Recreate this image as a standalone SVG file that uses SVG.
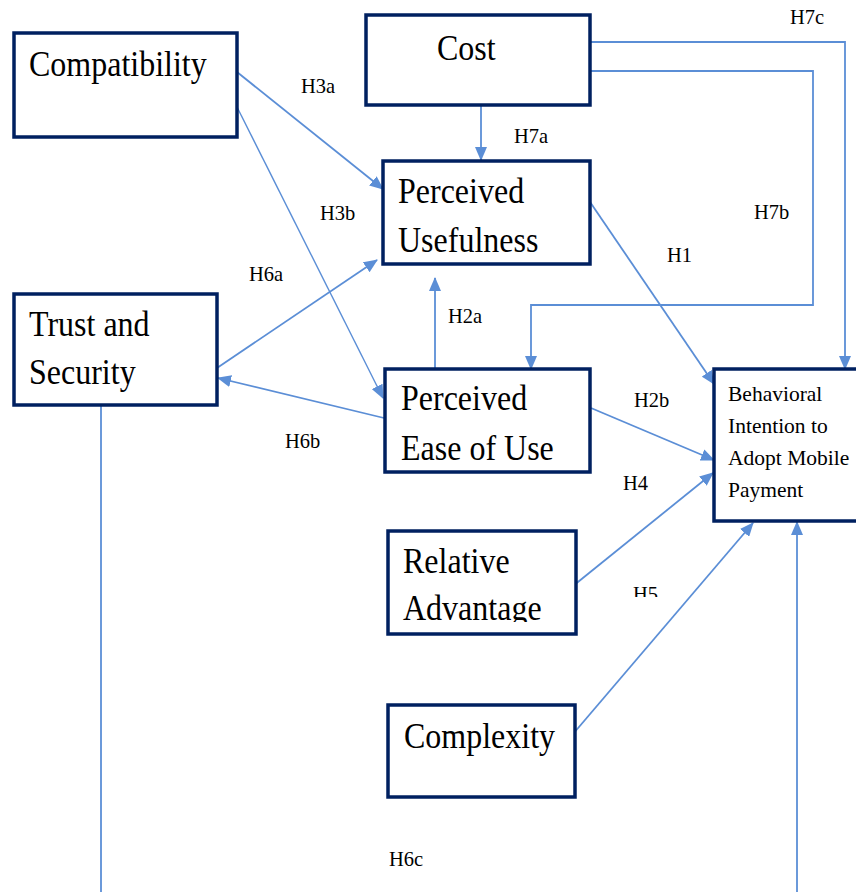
<svg xmlns="http://www.w3.org/2000/svg" width="856" height="892" viewBox="0 0 856 892">
<defs>
<marker id="ah" markerUnits="userSpaceOnUse" markerWidth="14" markerHeight="12" refX="13" refY="6" orient="auto">
<path d="M0,0 L14,6 L0,12 Z" fill="#5B8ED6"/>
</marker>
<clipPath id="clipH5"><rect x="600" y="560" width="100" height="37"/></clipPath>
<clipPath id="clipAdv"><rect x="390" y="530" width="185" height="92"/></clipPath>
</defs>
<rect width="856" height="892" fill="#fff"/>

<g id="connectors" fill="none" stroke="#5B8ED6" stroke-width="1.8">
<line x1="237" y1="72" x2="383" y2="189" marker-end="url(#ah)"/>
<line stroke-width="1.4" x1="237" y1="107" x2="383" y2="398" marker-end="url(#ah)"/>
<line x1="481" y1="105" x2="481" y2="160" marker-end="url(#ah)"/>
<polyline points="590,42 845,42 845,369" marker-end="url(#ah)"/>
<polyline points="590,71 813,71 813,305 531,305 531,369" marker-end="url(#ah)"/>
<line x1="588" y1="199" x2="714" y2="384" marker-end="url(#ah)"/>
<line x1="435" y1="369" x2="435" y2="278" marker-end="url(#ah)"/>
<line x1="217" y1="368" x2="377" y2="260" marker-end="url(#ah)"/>
<line x1="384" y1="418" x2="218" y2="378" marker-end="url(#ah)"/>
<line x1="591" y1="408" x2="714" y2="460" marker-end="url(#ah)"/>
<line x1="573" y1="586" x2="713" y2="473" marker-end="url(#ah)"/>
<line x1="573" y1="734" x2="753" y2="523" marker-end="url(#ah)"/>
<line x1="101" y1="405" x2="101" y2="895"/>
<line x1="797" y1="895" x2="797" y2="522" marker-end="url(#ah)"/>
</g>

<g id="labels" font-family="Liberation Serif" font-size="20.5" fill="#000">
<text transform="translate(790,24) scale(1,1.07)">H7c</text>
<text transform="translate(301,93) scale(1,1.07)">H3a</text>
<text transform="translate(514,143) scale(1,1.07)">H7a</text>
<text transform="translate(320,220) scale(1,1.07)">H3b</text>
<text transform="translate(754,219) scale(1,1.07)">H7b</text>
<text transform="translate(249,281) scale(1,1.07)">H6a</text>
<text transform="translate(667,262) scale(1,1.07)">H1</text>
<text transform="translate(448,323) scale(1,1.07)">H2a</text>
<text transform="translate(634,407) scale(1,1.07)">H2b</text>
<text transform="translate(285,448) scale(1,1.07)">H6b</text>
<text transform="translate(623,490) scale(1,1.07)">H4</text>
<g clip-path="url(#clipH5)"><text transform="translate(633,601) scale(1,1.07)">H5</text></g>
<text transform="translate(389,866) scale(1,1.07)">H6c</text>
</g>

<g font-family="Liberation Serif" font-size="32" fill="#000">
<g id="compatibility">
<rect fill="#fff" stroke="#002060" stroke-width="3.5" x="14" y="33" width="223" height="104"/>
<text transform="translate(29,76) scale(1,1.12)">Compatibility</text>
</g>

<g id="cost">
<rect fill="#fff" stroke="#002060" stroke-width="3.5" x="366" y="15" width="224" height="90"/>
<text transform="translate(437,60) scale(1,1.12)">Cost</text>
</g>

<g id="perceived-usefulness">
<rect fill="#fff" stroke="#002060" stroke-width="3.5" x="383" y="161" width="207" height="103"/>
<text transform="translate(398,203) scale(1,1.12)">Perceived</text>
<text transform="translate(398,252) scale(1,1.12)">Usefulness</text>
</g>

<g id="trust-security">
<rect fill="#fff" stroke="#002060" stroke-width="3.5" x="14" y="294" width="203" height="111"/>
<text transform="translate(29,336) scale(1,1.12)">Trust and</text>
<text transform="translate(29,384) scale(1,1.12)">Security</text>
</g>

<g id="perceived-ease">
<rect fill="#fff" stroke="#002060" stroke-width="3.5" x="385" y="369" width="205" height="103"/>
<text transform="translate(401,410) scale(1,1.12)">Perceived</text>
<text transform="translate(401,460) scale(1,1.12)">Ease of Use</text>
</g>

<g id="behavioral-intention">
<rect fill="#fff" stroke="#002060" stroke-width="3.5" x="714" y="369" width="160" height="152"/>
<text font-size="21.5" x="728" y="401">Behavioral</text>
<text font-size="21.5" x="728" y="433">Intention to</text>
<text font-size="21.5" x="728" y="465">Adopt Mobile</text>
<text font-size="21.5" x="728" y="497">Payment</text>
</g>

<g id="relative-advantage">
<rect fill="#fff" stroke="#002060" stroke-width="3.5" x="388" y="531" width="188" height="103"/>
<g clip-path="url(#clipAdv)">
<text transform="translate(403,573) scale(1,1.12)">Relative</text>
<text transform="translate(403,620) scale(1,1.12)">Advantage</text>
</g>
</g>

<g id="complexity">
<rect fill="#fff" stroke="#002060" stroke-width="3.5" x="388" y="705" width="187" height="92"/>
<text transform="translate(404,748) scale(1,1.12)">Complexity</text>
</g>
</g>
</svg>
